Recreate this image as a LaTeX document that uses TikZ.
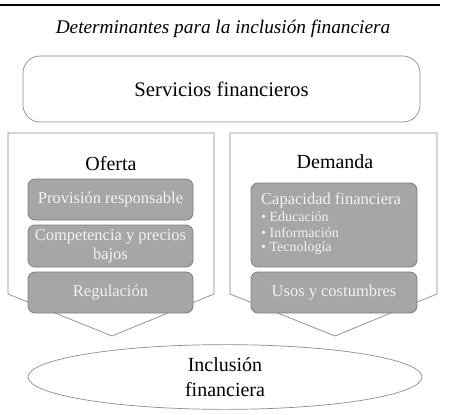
\documentclass[tikz,border=0pt]{standalone}
\usepackage{fontspec}
\setmainfont{Liberation Serif}
\usetikzlibrary{shapes.geometric}
\definecolor{boxgray}{HTML}{A6A6A6}
\definecolor{edgegray}{HTML}{7F7F7F}
\definecolor{linegray}{HTML}{8C8C8C}
\definecolor{txtlight}{HTML}{F2F2F2}
\begin{document}
\begin{tikzpicture}[x=1pt,y=-1pt,
  graybox/.style={draw=edgegray,fill=boxgray,rounded corners=7pt,line width=0.8pt,text=txtlight,font=\fontsize{16.5}{17}\selectfont},
  bullet/.style={text=txtlight,anchor=west,inner sep=0pt,font=\fontsize{14}{16}\selectfont},
  pent/.style={draw=linegray,line width=0.7pt,fill=white}]
\useasboundingbox (0,0) rectangle (450,415);
\draw[line width=1.4pt] (0,5) -- (440,5);
\node (title) at (223,29) {\fontsize{19.3}{20}\selectfont\itshape Determinantes para la inclusión financiera};
\node[draw=linegray,line width=0.7pt,rounded corners=17pt,minimum width=397pt,minimum height=66pt] (serv) at (221.5,89) {\fontsize{20.7}{22}\selectfont Servicios financieros};
% ellipse
\node[draw=linegray,line width=0.7pt,ellipse,minimum width=394pt,minimum height=64pt,align=center,font=\fontsize{20}{25}\selectfont] (incl) at (225,377) {Inclusión\\financiera};
% pentagons
\draw[pent] (8,133) coordinate (lp1) -- (214,133) -- (214,294) -- (112,336) coordinate (ltip) -- (8,294) -- cycle;
\draw[pent] (230,133) coordinate (rp1) -- (437,133) -- (437,294) -- (335,336) coordinate (rtip) -- (230,294) -- cycle;
\node (oferta) at (111,164) {\fontsize{20}{22}\selectfont Oferta};
\node (demanda) at (335,162) {\fontsize{20}{22}\selectfont Demanda};
\node[graybox,minimum width=165pt,minimum height=41pt] (prov) at (110.5,199.5) {Provisión responsable};
\node[graybox,minimum width=165pt,minimum height=42pt,align=center,font=\fontsize{16.5}{19}\selectfont] (comp) at (110.5,246) {Competencia y precios\\bajos};
\node[graybox,minimum width=165pt,minimum height=41pt] (reg) at (110.5,292.5) {Regulación};
\node[graybox,minimum width=166pt,minimum height=84pt] (cap) at (334,225) {};
\node[bullet,font=\fontsize{16.5}{17}\selectfont] (caph) at (261,200) {Capacidad financiera};
\node[bullet] (b1) at (261,217) {• Educación};
\node[bullet] (b2) at (261,232.5) {• Información};
\node[bullet] (b3) at (261,248) {• Tecnología};
\node[graybox,minimum width=166pt,minimum height=41pt] (usos) at (334,292.5) {Usos y costumbres};
\end{tikzpicture}
\end{document}
